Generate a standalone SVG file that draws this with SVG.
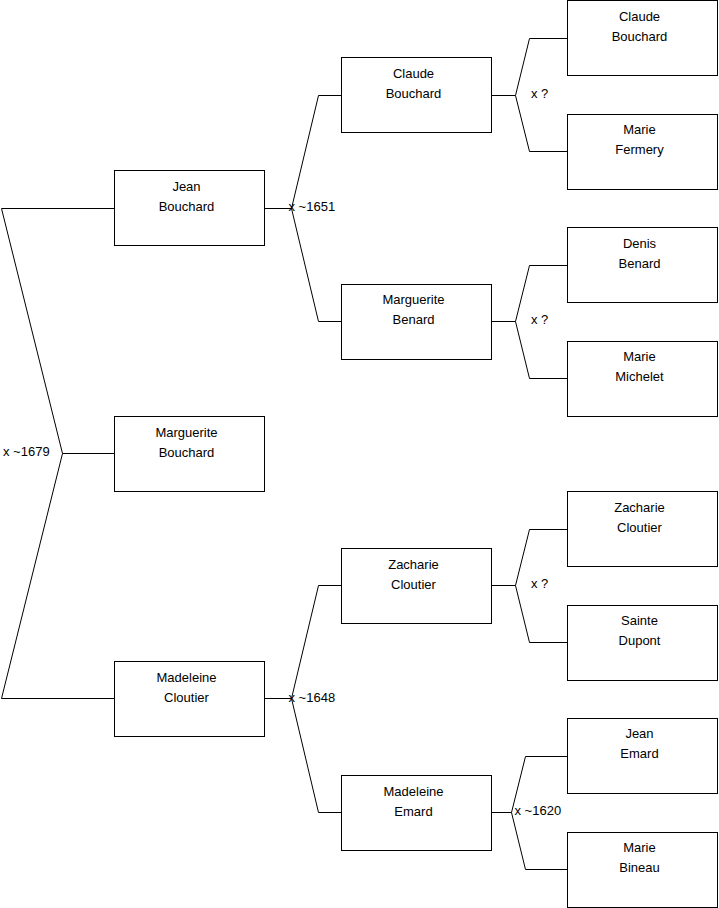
<svg xmlns="http://www.w3.org/2000/svg" width="719" height="908" viewBox="0 0 719 908">
<style>
.box{fill:#fff;stroke:#000;stroke-width:1}
.t{font-family:"Liberation Sans",Arial,sans-serif;font-size:13px;fill:#000;text-anchor:middle}
.lbl{font-family:"Liberation Sans",Arial,sans-serif;font-size:13px;fill:#000}
.c{fill:none;stroke:#000;stroke-width:1}
</style>
<rect width="719" height="908" fill="#fff"/>
<g id="connectors">
<path class="c" d="M114.5,208.5 H1.5 L62.5,453.5 L1.5,698.5 H114.5 M62.5,453.5 H114.5"/>
<path class="c" d="M264.5,208.5 H291.5 L318.5,95.5 H341.5 M291.5,208.5 L318.5,321.5 H341.5"/>
<path class="c" d="M264.5,698.5 H291.5 L318.5,585.5 H341.5 M291.5,698.5 L318.5,812.5 H341.5"/>
<path class="c" d="M491.5,95.5 H515.5 L529.5,38.5 H567.5 M515.5,95.5 L529.5,151.5 H567.5"/>
<path class="c" d="M491.5,321.5 H515.5 L529.5,265.5 H567.5 M515.5,321.5 L529.5,378.5 H567.5"/>
<path class="c" d="M491.5,585.5 H515.5 L529.5,529.5 H567.5 M515.5,585.5 L529.5,642.5 H567.5"/>
<path class="c" d="M491.5,812.5 H511.5 L525.5,756.5 H567.5 M511.5,812.5 L525.5,869.5 H567.5"/>
<text class="lbl" x="3" y="456">x ~1679</text>
<text class="lbl" x="288.5" y="211">x ~1651</text>
<text class="lbl" x="288.5" y="701.5">x ~1648</text>
<text class="lbl" x="531" y="97.5">x ?</text>
<text class="lbl" x="531" y="324">x ?</text>
<text class="lbl" x="531" y="588">x ?</text>
<text class="lbl" x="514.5" y="815">x ~1620</text>
</g>
<g id="n-jean-bouchard"><rect class="box" x="114.5" y="170.5" width="150" height="75"/><text class="t" x="186.5" y="190.5">Jean</text><text class="t" x="186.5" y="210.5">Bouchard</text></g>
<g id="n-marguerite-bouchard"><rect class="box" x="114.5" y="416.5" width="150" height="75"/><text class="t" x="186.5" y="436.5">Marguerite</text><text class="t" x="186.5" y="456.5">Bouchard</text></g>
<g id="n-madeleine-cloutier"><rect class="box" x="114.5" y="661.5" width="150" height="75"/><text class="t" x="186.5" y="681.5">Madeleine</text><text class="t" x="186.5" y="701.5">Cloutier</text></g>
<g id="n-claude-bouchard-2"><rect class="box" x="341.5" y="57.5" width="150" height="75"/><text class="t" x="413.5" y="77.5">Claude</text><text class="t" x="413.5" y="97.5">Bouchard</text></g>
<g id="n-marguerite-benard"><rect class="box" x="341.5" y="284.5" width="150" height="75"/><text class="t" x="413.5" y="303.5">Marguerite</text><text class="t" x="413.5" y="323.5">Benard</text></g>
<g id="n-zacharie-cloutier-2"><rect class="box" x="341.5" y="548.5" width="150" height="75"/><text class="t" x="413.5" y="568.5">Zacharie</text><text class="t" x="413.5" y="588.5">Cloutier</text></g>
<g id="n-madeleine-emard"><rect class="box" x="341.5" y="775.5" width="150" height="75"/><text class="t" x="413.5" y="795.5">Madeleine</text><text class="t" x="413.5" y="815.5">Emard</text></g>
<g id="n-claude-bouchard-3"><rect class="box" x="567.5" y="0.5" width="150" height="75"/><text class="t" x="639.5" y="20.5">Claude</text><text class="t" x="639.5" y="40.5">Bouchard</text></g>
<g id="n-marie-fermery"><rect class="box" x="567.5" y="114.5" width="150" height="75"/><text class="t" x="639.5" y="133.5">Marie</text><text class="t" x="639.5" y="153.5">Fermery</text></g>
<g id="n-denis-benard"><rect class="box" x="567.5" y="227.5" width="150" height="75"/><text class="t" x="639.5" y="247.5">Denis</text><text class="t" x="639.5" y="267.5">Benard</text></g>
<g id="n-marie-michelet"><rect class="box" x="567.5" y="341.5" width="150" height="75"/><text class="t" x="639.5" y="360.5">Marie</text><text class="t" x="639.5" y="380.5">Michelet</text></g>
<g id="n-zacharie-cloutier-3"><rect class="box" x="567.5" y="491.5" width="150" height="75"/><text class="t" x="639.5" y="511.5">Zacharie</text><text class="t" x="639.5" y="531.5">Cloutier</text></g>
<g id="n-sainte-dupont"><rect class="box" x="567.5" y="605.5" width="150" height="75"/><text class="t" x="639.5" y="624.5">Sainte</text><text class="t" x="639.5" y="644.5">Dupont</text></g>
<g id="n-jean-emard"><rect class="box" x="567.5" y="718.5" width="150" height="75"/><text class="t" x="639.5" y="737.5">Jean</text><text class="t" x="639.5" y="757.5">Emard</text></g>
<g id="n-marie-bineau"><rect class="box" x="567.5" y="832.5" width="150" height="75"/><text class="t" x="639.5" y="851.5">Marie</text><text class="t" x="639.5" y="871.5">Bineau</text></g>
</svg>
